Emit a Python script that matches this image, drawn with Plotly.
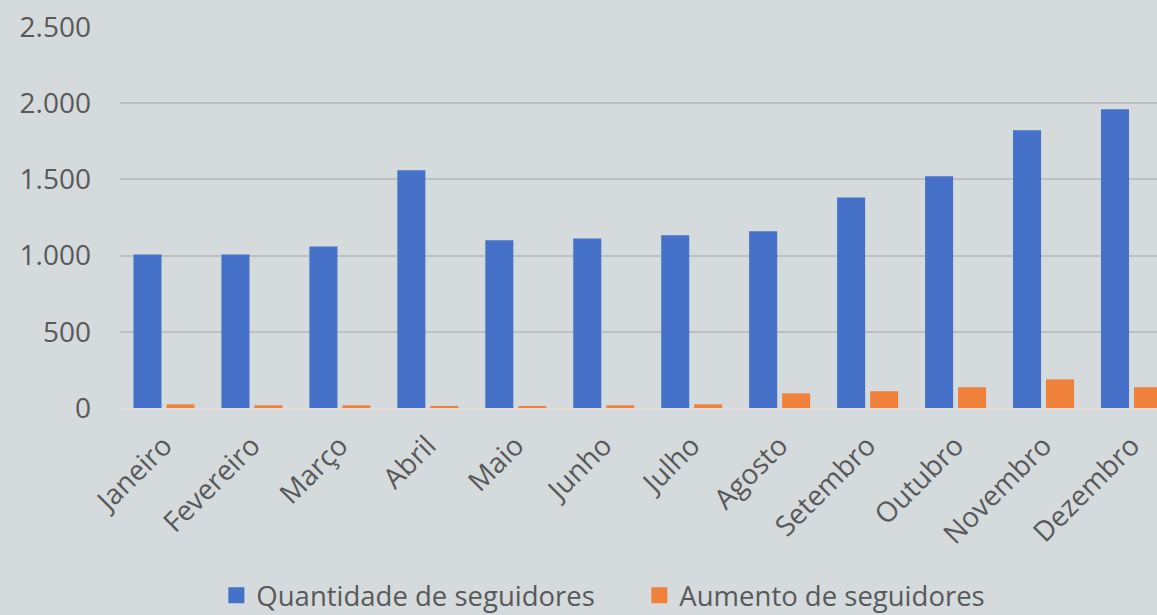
import plotly.graph_objects as go

meses = ["Janeiro", "Fevereiro", "Março", "Abril", "Maio", "Junho",
         "Julho", "Agosto", "Setembro", "Outubro", "Novembro", "Dezembro"]
quantidade = [1008, 1008, 1060, 1560, 1100, 1113, 1133, 1160, 1382, 1520, 1822, 1960]
aumento = [24, 18, 18, 11, 11, 18, 24, 96, 110, 136, 188, 136]
y_ticks = [0, 500, 1000, 1500, 2000, 2500]
nomes = ["Quantidade de seguidores", "Aumento de seguidores"]
cores = ["#4572c8", "#f0813a"]

FONT = "Open Sans"
TXT = "#595959"
BG = "#d5dadd"

fig = go.Figure()
for serie, nome, cor in zip([quantidade, aumento], nomes, cores):
    fig.add_trace(go.Bar(x=meses, y=serie, name=nome, showlegend=False,
                         marker=dict(color=cor, line=dict(width=0))))
# legend entries with larger square symbols
for nome, cor in zip(nomes, cores):
    fig.add_trace(go.Scatter(x=[None], y=[None], mode="markers", name=nome,
                             marker=dict(symbol="square", size=16, color=cor),
                             showlegend=True))

fig.update_layout(
    width=1157, height=615,
    margin=dict(l=119.5, r=0, t=26.7, b=207.3, pad=0),
    paper_bgcolor=BG, plot_bgcolor=BG,
    separators=",.",
    barmode="group", bargap=0.25, bargroupgap=0.15,
    font=dict(family=FONT, size=28, color=TXT),
    showlegend=True,
    legend=dict(orientation="h", xref="container", yref="container",
                x=0.187, xanchor="left", y=0.032, yanchor="middle",
                font=dict(family=FONT, size=27.5, color=TXT),
                bgcolor="rgba(0,0,0,0)", itemwidth=30,
                entrywidth=378, entrywidthmode="pixels"),
)
fig.update_xaxes(range=[-0.5, 11.29], tickangle=-45, showgrid=False,
                 showline=True, linecolor="#e2ddd8", linewidth=2,
                 ticks="", tickfont=dict(family=FONT, size=28, color=TXT),
                 ticklabelstandoff=8, fixedrange=True)
fig.update_yaxes(range=[0, 2500], tickvals=y_ticks, tickformat=",d",
                 showgrid=True, gridcolor="#bfbfbf", gridwidth=1.5,
                 zeroline=False, showline=False, ticks="",
                 tickfont=dict(family=FONT, size=28, color=TXT),
                 ticklabelstandoff=28, fixedrange=True)

fig.write_html("out.html", config={"displayModeBar": False},
               post_script="document.body.style.margin='0';"
                           "document.body.style.background='" + BG + "';")
